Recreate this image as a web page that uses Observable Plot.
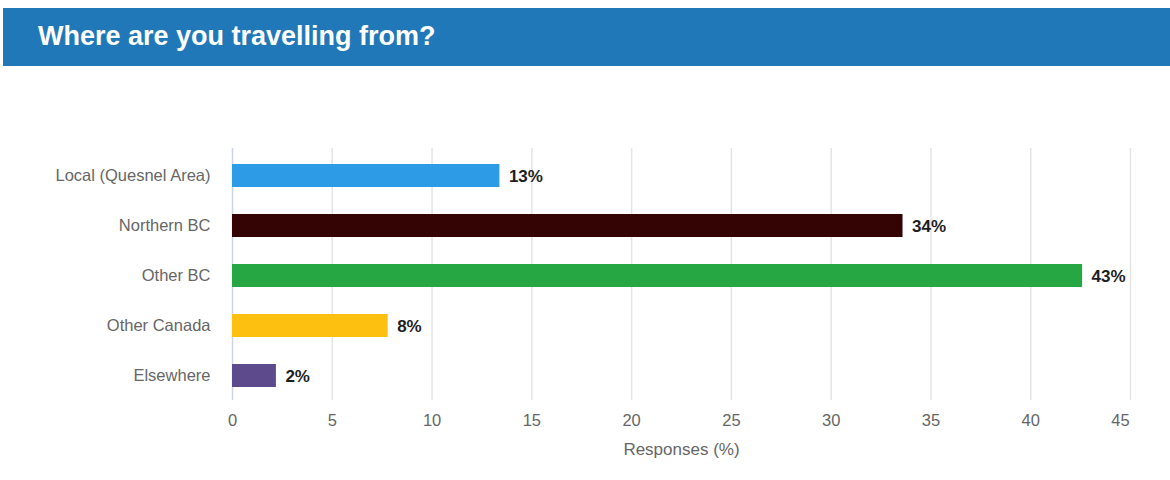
<!DOCTYPE html>
<html>
<head>
<meta charset="utf-8">
<script src="https://cdn.jsdelivr.net/npm/d3@7"></script>
<script src="https://cdn.jsdelivr.net/npm/@observablehq/plot@0.6"></script>
<style>
  html, body { margin: 0; padding: 0; background: #fff; width: 1170px; height: 480px; overflow: hidden; }
  #header { position: absolute; left: 3px; top: 8px; width: 1167px; height: 58px; background: #2178b8; }
  #header h1 { margin: 0; padding-left: 35px; line-height: 56px; color: #fff; font-family: "Liberation Sans", Arial, sans-serif; font-weight: 700; font-size: 27px; }
  #chart { position: absolute; left: 0; top: 66px; }
</style>
</head>
<body>
<div id="header"><h1>Where are you travelling from?</h1></div>
<div id="chart"></div>
<script>
const categories = ["Local (Quesnel Area)", "Northern BC", "Other BC", "Other Canada", "Elsewhere"];
const values = [13.4, 33.6, 42.6, 7.8, 2.2];
const valueLabels = ["13%", "34%", "43%", "8%", "2%"];
const colors = ["#2d9be6", "#340303", "#27a744", "#fdbf10", "#5d4a8c"];
const xTicks = [0, 5, 10, 15, 20, 25, 30, 35, 40];
const lastTick = [45];

const data = categories.map((c, i) => ({category: c, value: values[i], label: valueLabels[i], color: colors[i]}));

const font = "'Liberation Sans', Arial, sans-serif";
const chart = Plot.plot({
  width: 1170,
  height: 414,
  marginLeft: 232,
  marginRight: 40,
  marginTop: 84,
  marginBottom: 80,
  style: {fontFamily: font, fontSize: "16px", color: "#666", background: "#fff"},
  x: {domain: [0, 45]},
  y: {domain: categories, paddingInner: 0.54, paddingOuter: 0.27},
  marks: [
    Plot.gridX(d3.range(5, 50, 5), {stroke: "#e4e4e4", strokeOpacity: 1, strokeWidth: 1.5, insetTop: -2}),
    Plot.ruleX([0], {stroke: "#cdd4ea", strokeWidth: 1.5, insetTop: -2}),
    Plot.barX(data, {x: "value", y: "category", fill: "color"}),
    Plot.text(data, {x: "value", y: "category", text: "label", textAnchor: "start", dx: 9, fill: "#1e1e1e", fontWeight: "bold", fontSize: 17, dy: 1}),
    Plot.axisY({tickSize: 0, tickPadding: 22, fill: "#666", fontSize: 16.5, label: null}),
    Plot.axisX(xTicks, {tickSize: 0, tickPadding: 14, fill: "#666", fontSize: 16.5, label: "Responses (%)", labelAnchor: "center", labelOffset: 54, labelArrow: "none"}),
    Plot.axisX(lastTick, {tickSize: 0, tickPadding: 14, fill: "#666", fontSize: 16.5, dx: -10, label: null})
  ]
});
document.getElementById("chart").appendChild(chart);
// axis title font size
chart.querySelectorAll("[aria-label='x-axis label'] text").forEach(t => t.setAttribute("font-size", "17"));
</script>
</body>
</html>
